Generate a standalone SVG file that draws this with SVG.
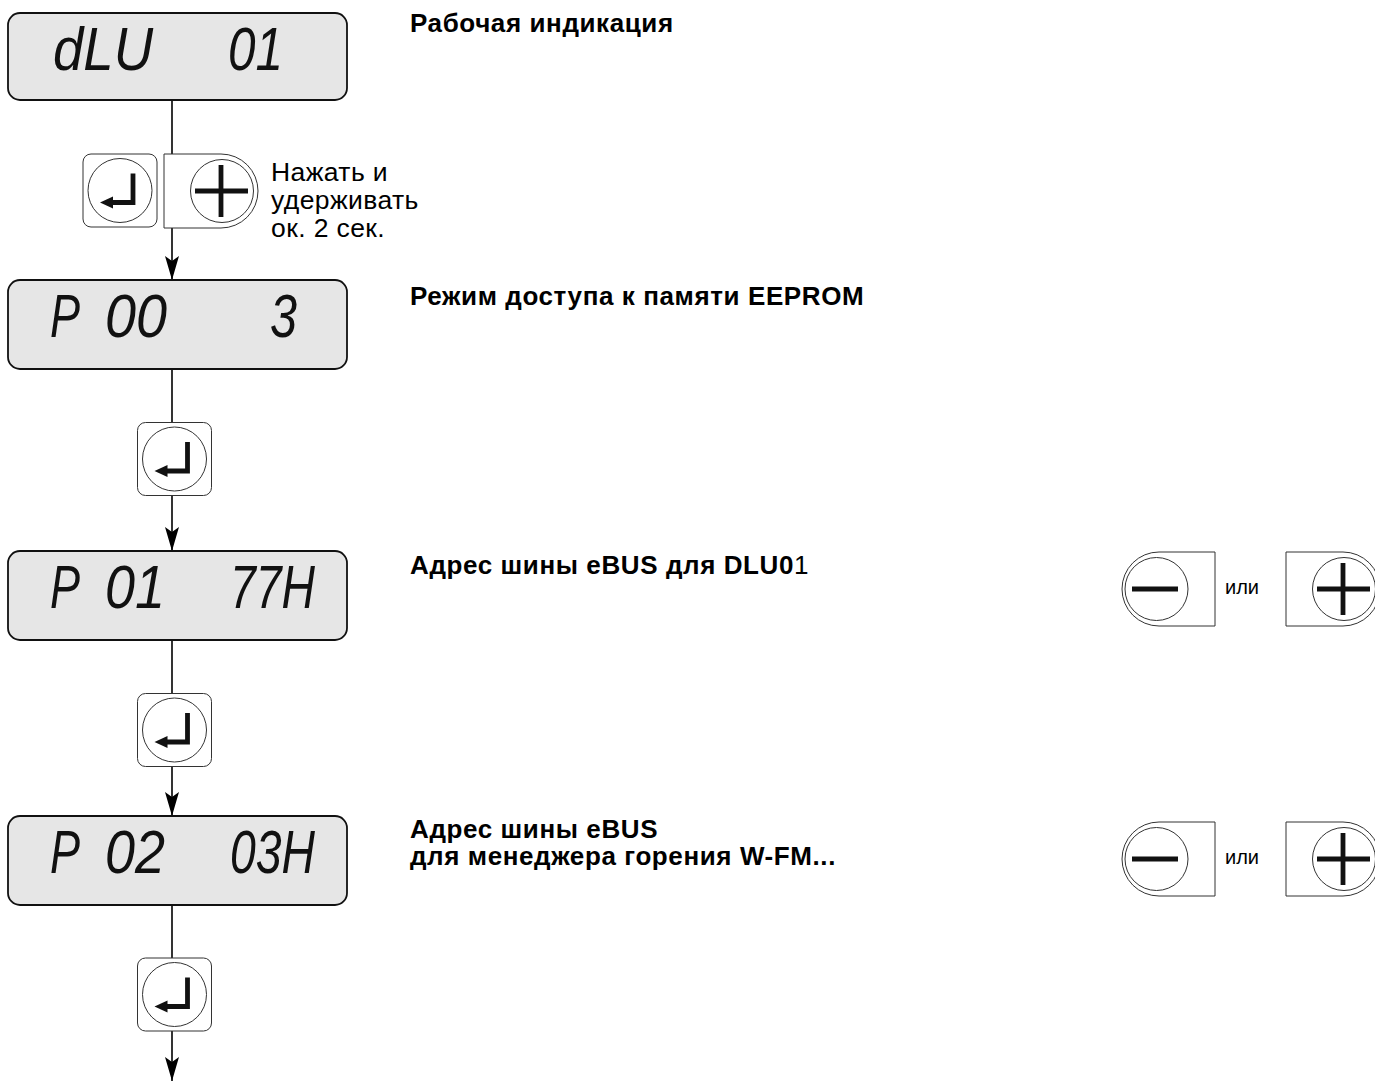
<svg xmlns="http://www.w3.org/2000/svg" xmlns:xlink="http://www.w3.org/1999/xlink" width="1375" height="1082" viewBox="0 0 1375 1082">
<style>
.disp{fill:#e6e6e6;stroke:#111;stroke-width:1.8}
.lcd{font-family:"Liberation Sans",Arial,sans-serif;font-style:italic;font-size:62px;fill:#111}
.head{font-family:"Liberation Sans",Arial,sans-serif;font-weight:bold;font-size:26px;letter-spacing:0.6px;fill:#000}
.note{font-family:"Liberation Sans",Arial,sans-serif;font-size:26.5px;letter-spacing:0.4px;fill:#000}
.small{font-family:"Liberation Sans",Arial,sans-serif;font-size:20px;fill:#000}
.btn{fill:#fff;stroke:#333;stroke-width:1}
.ring{fill:none;stroke:#333;stroke-width:1}
.bar{stroke:#111;stroke-width:4.8;fill:none}
.conn{stroke:#000;stroke-width:1.6;fill:none}
</style>
<defs>
<marker id="arr" markerUnits="userSpaceOnUse" viewBox="0 -8 25 16" refX="24" refY="0" markerWidth="25" markerHeight="16" orient="auto">
<path d="M0,-7 L24,0 L0,7 L5,0 Z" fill="#000"/>
</marker>
<g id="enterBtn">
<rect class="btn" x="-37" y="-36.5" width="74" height="73" rx="8"/>
<circle class="ring" r="32"/>
<path class="bar" d="M13,-17 V12 H-8"/>
<path d="M-20,12 L-7,6 L-7,18 Z" fill="#111"/>
</g>
<g id="plusBtn">
<path class="btn" d="M0,0 H57 A37,37 0 0 1 57,74 H0 Z"/>
<circle class="ring" cx="58" cy="37" r="31.5"/>
<path class="bar" d="M31,37 H84 M57,11 V63"/>
</g>
<g id="minusBtn">
<path class="btn" d="M0,0 H-56 A37,37 0 0 0 -56,74 H0 Z"/>
<circle class="ring" cx="-58.5" cy="37" r="31.5"/>
<path class="bar" d="M-83,37 H-37" stroke-width="5"/>
</g>
</defs>
<rect width="1375" height="1082" fill="#fff"/>

<g id="connectors">
<line class="conn" x1="172" y1="100" x2="172" y2="280" marker-end="url(#arr)"/>
<line class="conn" x1="172" y1="369" x2="172" y2="551" marker-end="url(#arr)"/>
<line class="conn" x1="172" y1="640" x2="172" y2="816" marker-end="url(#arr)"/>
<line class="conn" x1="172" y1="905" x2="172" y2="1081" marker-end="url(#arr)"/>
</g>

<g id="display1">
<rect class="disp" x="8" y="13" width="339" height="87" rx="12"/>
<text class="lcd" x="53" y="70" textLength="100" lengthAdjust="spacingAndGlyphs">dLU</text>
<text class="lcd" x="228" y="70" textLength="55" lengthAdjust="spacingAndGlyphs">01</text>
</g>
<g id="display2">
<rect class="disp" x="8" y="280" width="339" height="89" rx="12"/>
<text class="lcd" x="50" y="337" textLength="30" lengthAdjust="spacingAndGlyphs">P</text>
<text class="lcd" x="105" y="337" textLength="62" lengthAdjust="spacingAndGlyphs">00</text>
<text class="lcd" x="270" y="337" textLength="27" lengthAdjust="spacingAndGlyphs">3</text>
</g>
<g id="display3">
<rect class="disp" x="8" y="551" width="339" height="89" rx="12"/>
<text class="lcd" x="50" y="608" textLength="30" lengthAdjust="spacingAndGlyphs">P</text>
<text class="lcd" x="105" y="608" textLength="60" lengthAdjust="spacingAndGlyphs">01</text>
<text class="lcd" x="230" y="608" textLength="85" lengthAdjust="spacingAndGlyphs">77H</text>
</g>
<g id="display4">
<rect class="disp" x="8" y="816" width="339" height="89" rx="12"/>
<text class="lcd" x="50" y="873" textLength="30" lengthAdjust="spacingAndGlyphs">P</text>
<text class="lcd" x="105" y="873" textLength="60" lengthAdjust="spacingAndGlyphs">02</text>
<text class="lcd" x="230" y="873" textLength="85" lengthAdjust="spacingAndGlyphs">03H</text>
</g>

<g id="enter1"><use xlink:href="#enterBtn" transform="translate(120,190.5)"/></g>
<g id="plus1"><use xlink:href="#plusBtn" transform="translate(164,154)"/></g>
<g id="enter2"><use xlink:href="#enterBtn" transform="translate(174.5,459)"/></g>
<g id="enter3"><use xlink:href="#enterBtn" transform="translate(174.5,730)"/></g>
<g id="enter4"><use xlink:href="#enterBtn" transform="translate(174.5,994.5)"/></g>

<g id="label-hold">
<text class="note" x="271" y="181">Нажать и</text>
<text class="note" x="271" y="209">удерживать</text>
<text class="note" x="271" y="237">ок. 2 сек.</text>
</g>

<g id="label1"><text class="head" x="410" y="32">Рабочая индикация</text></g>
<g id="label2"><text class="head" x="410" y="305">Режим доступа к памяти EEPROM</text></g>
<g id="label3"><text class="head" x="410" y="574">Адрес шины eBUS для DLU0<tspan font-weight="normal">1</tspan></text></g>
<g id="label4">
<text class="head" x="410" y="838">Адрес шины eBUS</text>
<text class="head" x="410" y="865">для менеджера горения W-FM...</text>
</g>

<g id="pair1">
<use xlink:href="#minusBtn" transform="translate(1215,552)"/>
<text class="small" x="1225" y="594">или</text>
<use xlink:href="#plusBtn" transform="translate(1286,552)"/>
</g>
<g id="pair2">
<use xlink:href="#minusBtn" transform="translate(1215,822)"/>
<text class="small" x="1225" y="864">или</text>
<use xlink:href="#plusBtn" transform="translate(1286,822)"/>
</g>
</svg>
